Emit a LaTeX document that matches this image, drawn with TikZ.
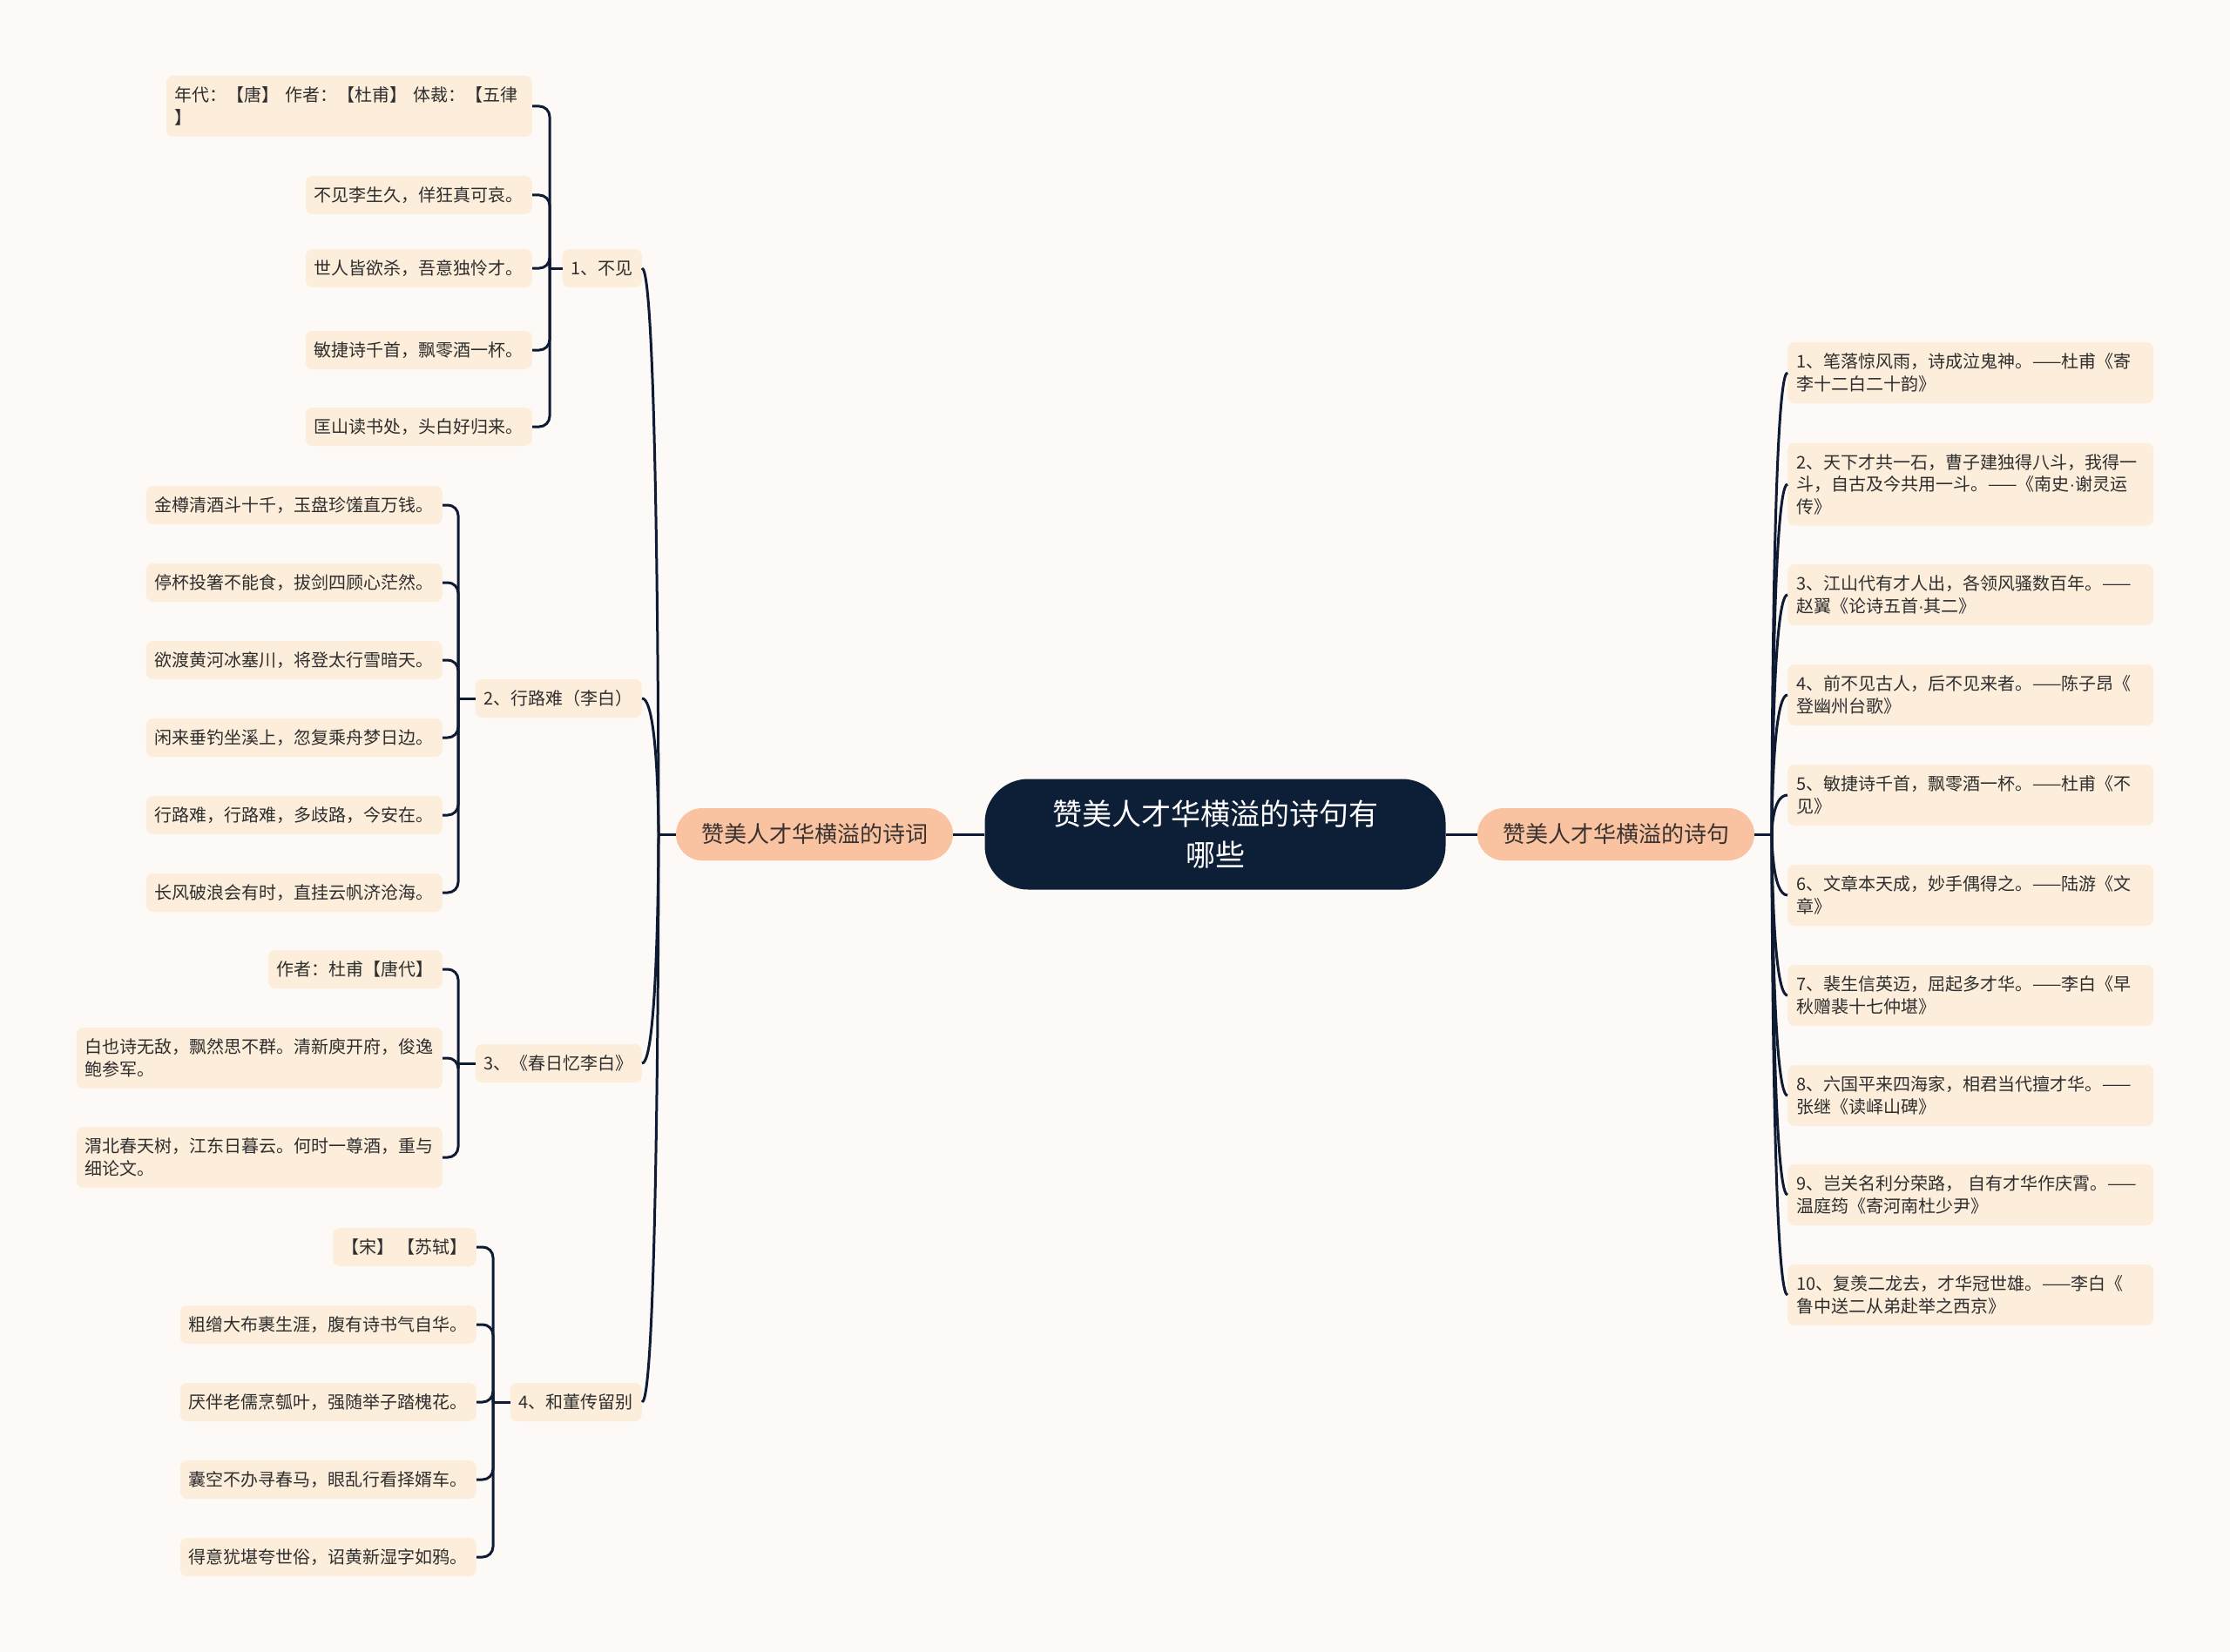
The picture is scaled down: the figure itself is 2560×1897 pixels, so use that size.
\documentclass[tikz,border=0pt]{standalone}
\usepackage{fontspec}
\newfontfamily\cjk{Noto Sans CJK SC}
\newfontfamily\latn{Liberation Sans}
\newcommand{\mdot}{{\latn ·}}
\definecolor{bgc}{HTML}{FCF9F7}
\definecolor{leafc}{HTML}{FDEEDC}
\definecolor{l1c}{HTML}{F9C2A0}
\definecolor{rootc}{HTML}{0D1E37}
\definecolor{linec}{HTML}{0F1B33}
\definecolor{txtc}{HTML}{2E2E2E}
\definecolor{l1t}{HTML}{3A3230}
\begin{document}
\begin{tikzpicture}[x=1pt,y=-1pt,
  conn/.style={draw=linec, line width=3pt},
  bracket/.style={conn, rounded corners=12pt},
  leaf/.style={fill=leafc, rounded corners=8pt, inner xsep=10pt, inner ysep=3pt, minimum height=44pt, text=txtc, font=\cjk\fontsize{20}{25.5}\selectfont},
  wide/.style={leaf, text width=400pt, align=left},
  two/.style={wide, minimum height=70pt},
  three/.style={wide, minimum height=95pt},
  branch/.style={fill=l1c, rounded corners=30pt, minimum width=318pt, minimum height=60pt, text=l1t, font=\cjk\fontsize{26}{30}\selectfont},
  root/.style={fill=rootc, rounded corners=50pt, minimum width=529pt, minimum height=127pt, text=white, align=center, font=\cjk\fontsize{34}{47}\selectfont},
]
\fill[bgc] (0,0) rectangle (2560,1897);
\useasboundingbox (0,0) rectangle (2560,1897);

% root and main branches
\node[root] (root) at (1395,958) {赞美人才华横溢的诗句有\\哪些};
\node[branch] (L) at (935,958) {赞美人才华横溢的诗词};
\node[branch] (R) at (1855,958) {赞美人才华横溢的诗句};

% left level 2
\node[leaf, anchor=east] (a1) at (737,308) {1、不见};
\node[leaf, anchor=east] (a2) at (737,802) {2、行路难（李白）};
\node[leaf, anchor=east] (a3) at (737,1221) {3、《春日忆李白》};
\node[leaf, anchor=east] (a4) at (737,1610) {4、和董传留别};

% group 1
\node[two, anchor=east] (b11) at (611,122) {年代：【唐】~作者：【杜甫】~体裁：【五律\\】};
\node[leaf, anchor=east] (b12) at (611,224) {不见李生久，佯狂真可哀。};
\node[leaf, anchor=east] (b13) at (611,308) {世人皆欲杀，吾意独怜才。};
\node[leaf, anchor=east] (b14) at (611,402) {敏捷诗千首，飘零酒一杯。};
\node[leaf, anchor=east] (b15) at (611,490) {匡山读书处，头白好归来。};

% group 2
\node[leaf, anchor=east] (b21) at (508,580) {金樽清酒斗十千，玉盘珍馐直万钱。};
\node[leaf, anchor=east] (b22) at (508,669) {停杯投箸不能食，拔剑四顾心茫然。};
\node[leaf, anchor=east] (b23) at (508,758) {欲渡黄河冰塞川，将登太行雪暗天。};
\node[leaf, anchor=east] (b24) at (508,847) {闲来垂钓坐溪上，忽复乘舟梦日边。};
\node[leaf, anchor=east] (b25) at (508,936) {行路难，行路难，多歧路，今安在。};
\node[leaf, anchor=east] (b26) at (508,1025) {长风破浪会有时，直挂云帆济沧海。};

% group 3
\node[leaf, anchor=east] (b31) at (508,1113) {作者：杜甫【唐代】};
\node[two, anchor=east] (b32) at (508,1215) {白也诗无敌，飘然思不群。清新庾开府，俊逸\\鲍参军。};
\node[two, anchor=east] (b33) at (508,1329) {渭北春天树，江东日暮云。何时一尊酒，重与\\细论文。};

% group 4
\node[leaf, anchor=east] (b41) at (547,1432) {【宋】~【苏轼】};
\node[leaf, anchor=east] (b42) at (547,1521) {粗缯大布裹生涯，腹有诗书气自华。};
\node[leaf, anchor=east] (b43) at (547,1610) {厌伴老儒烹瓠叶，强随举子踏槐花。};
\node[leaf, anchor=east] (b44) at (547,1699) {囊空不办寻春马，眼乱行看择婿车。};
\node[leaf, anchor=east] (b45) at (547,1788) {得意犹堪夸世俗，诏黄新湿字如鸦。};

% right side
\node[two, anchor=west] (c1) at (2052,428) {1、笔落惊风雨，诗成泣鬼神。——杜甫《寄\\李十二白二十韵》};
\node[three, anchor=west] (c2) at (2052,556) {2、天下才共一石，曹子建独得八斗，我得一\\斗，自古及今共用一斗。——《南史\mdot 谢灵运\\传》};
\node[two, anchor=west] (c3) at (2052,683) {3、江山代有才人出，各领风骚数百年。——\\赵翼《论诗五首\mdot 其二》};
\node[two, anchor=west] (c4) at (2052,798) {4、前不见古人，后不见来者。——陈子昂《\\登幽州台歌》};
\node[two, anchor=west] (c5) at (2052,913) {5、敏捷诗千首，飘零酒一杯。——杜甫《不\\见》};
\node[two, anchor=west] (c6) at (2052,1028) {6、文章本天成，妙手偶得之。——陆游《文\\章》};
\node[two, anchor=west] (c7) at (2052,1143) {7、裴生信英迈，屈起多才华。——李白《早\\秋赠裴十七仲堪》};
\node[two, anchor=west] (c8) at (2052,1258) {8、六国平来四海家，相君当代擅才华。——\\张继《读峄山碑》};
\node[two, anchor=west] (c9) at (2052,1372) {9、岂关名利分荣路，~自有才华作庆霄。——\\温庭筠《寄河南杜少尹》};
\node[two, anchor=west] (c10) at (2052,1487) {10、复羡二龙去，才华冠世雄。——李白《\\鲁中送二从弟赴举之西京》};

% junctions
\coordinate (jL) at (756,958);
\coordinate (jR) at (2034,958);
\coordinate (j1) at (631,308);
\coordinate (j2) at (526,802);
\coordinate (j3) at (526,1221);
\coordinate (j4) at (566,1610);

% connectors
\draw[conn] (root.west) -- (L.east);
\draw[conn] (root.east) -- (R.west);
\draw[conn] (L.west) -- (jL);
\draw[conn] (R.east) -- (jR);
\foreach \n in {a1,a2,a3,a4}
  \draw[conn] (jL) .. controls (jL) and (jL |- \n.east) .. (\n.east);
\foreach \n in {c1,c2,c3,c4,c5,c6,c7,c8,c9,c10}
  \draw[conn] (jR) .. controls (jR) and (jR |- \n.west) .. (\n.west);

\draw[conn] (a1.west) -- (j1);
\foreach \n in {b11,b12,b13,b14,b15} \draw[bracket] (j1) |- (\n.east);
\draw[conn] (a2.west) -- (j2);
\foreach \n in {b21,b22,b23,b24,b25,b26} \draw[bracket] (j2) |- (\n.east);
\draw[conn] (a3.west) -- (j3);
\foreach \n in {b31,b32,b33} \draw[bracket] (j3) |- (\n.east);
\draw[conn] (a4.west) -- (j4);
\foreach \n in {b41,b42,b43,b44,b45} \draw[bracket] (j4) |- (\n.east);
\end{tikzpicture}
\end{document}
